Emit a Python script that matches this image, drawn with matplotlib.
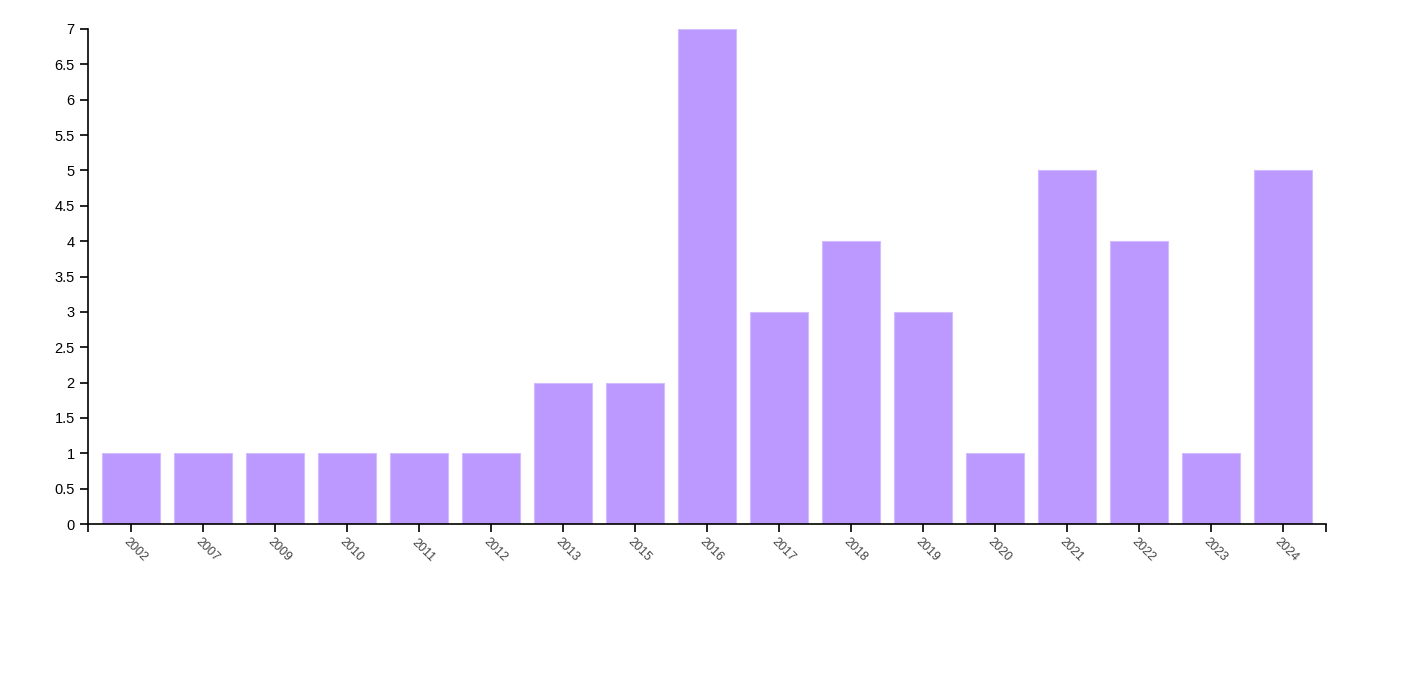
import matplotlib.pyplot as plt
import matplotlib.transforms as mtransforms
from matplotlib.ticker import FixedLocator

years = ['2002', '2007', '2009', '2010', '2011', '2012', '2013', '2015', '2016',
         '2017', '2018', '2019', '2020', '2021', '2022', '2023', '2024']
counts = [1, 1, 1, 1, 1, 1, 2, 2, 7, 3, 4, 3, 1, 5, 4, 1, 5]

plt.rcParams['font.family'] = ['Liberation Sans', 'DejaVu Sans']

fig = plt.figure(figsize=(14.28, 6.99), dpi=100)
ax = fig.add_axes([88 / 1428, 1 - 524 / 699, (1326 - 88) / 1428, (524 - 29) / 699])

x = list(range(len(years)))
ax.bar(x, counts, width=0.8, color='#bb99ff', edgecolor='#d2bcff', linewidth=0.8)

# band scale with 0.2 padding inside and outside
lo, hi = -0.6, len(years) - 0.4
ax.set_xlim(lo, hi)
ax.set_ylim(0, 7)
ax.set_yticks([i * 0.5 for i in range(15)])
ax.set_yticklabels(['0', '0.5', '1', '1.5', '2', '2.5', '3', '3.5', '4', '4.5',
                    '5', '5.5', '6', '6.5', '7'], fontsize=10.5, color='black')

ax.set_xticks(x)
ax.set_xticklabels([])
# rotated year labels, centred a little right of and below each tick
offset = mtransforms.ScaledTranslation(4 / 100, -26 / 100, fig.dpi_scale_trans)
for i, yr in enumerate(years):
    ax.text(i, 0, yr, transform=ax.get_xaxis_transform() + offset,
            fontsize=9, color='#444444', rotation=-45,
            ha='center', va='center', rotation_mode='anchor')

# outer ticks at the ends of the x domain
ax.xaxis.set_minor_locator(FixedLocator([lo, hi]))
ax.tick_params(axis='x', which='minor', length=6, width=1.2, color='black')
ax.tick_params(axis='both', which='major', length=6, width=1.2, color='black')
ax.tick_params(axis='y', which='major', pad=3.5)

for side in ['top', 'right']:
    ax.spines[side].set_visible(False)
for side in ['left', 'bottom']:
    ax.spines[side].set_linewidth(1.2)
    ax.spines[side].set_color('black')

fig.savefig('out.png', dpi=100)
